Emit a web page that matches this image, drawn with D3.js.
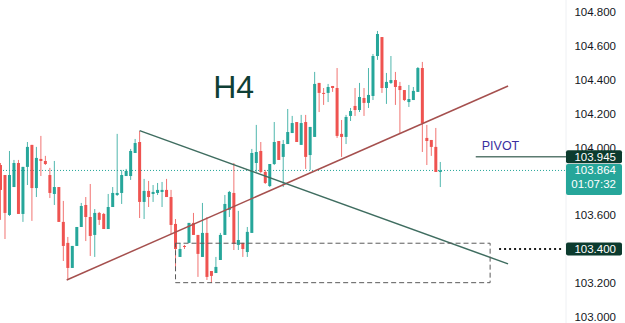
<!DOCTYPE html>
<html>
<head>
	<meta charset="utf-8">
	<title>index</title>
	<script src="https://d3js.org/d3.v7.min.js"></script>
	<style>
		body { margin:0; background:#fff; }
		svg { display:block; font-family:"Liberation Sans", Arial, sans-serif; }
	</style>
</head>
<body>
<script>

	// H4 candles (prices)
	var opens  = [103.896,103.837,103.601,103.766,103.908,103.607,103.885,104.015,103.760,103.932,
	              103.920,103.837,103.725,103.766,103.560,103.436,103.288,103.418,103.530,103.660,
	              103.589,103.483,103.613,103.607,103.518,103.648,103.719,103.731,103.831,103.831,
	              103.967,104.032,103.678,103.743,103.725,103.731,103.737,103.749,103.707,103.548,
	              103.353,103.418,103.436,103.554,103.483,103.353,103.495,103.270,103.258,103.335,
	              103.483,103.631,103.731,103.424,103.436,103.382,103.495,103.908,103.979,103.855,
	              103.772,103.902,104.038,103.944,104.020,104.085,104.150,104.015,104.150,103.955,
	              104.062,104.381,104.322,104.322,104.363,104.351,104.080,104.062,104.186,104.245,
	              104.221,104.292,104.263,104.304,104.540,104.652,104.351,104.381,104.398,104.363,
	              104.339,104.268,104.280,104.328,104.469,104.056,104.044,104.003,103.855];
	var highs  = [103.908,103.837,103.979,103.926,103.926,103.885,104.032,104.015,104.003,104.068,
	              103.950,103.879,103.920,103.766,103.684,103.471,103.418,103.530,103.672,103.707,
	              103.784,103.636,103.619,103.613,103.725,103.766,104.080,103.867,103.873,103.991,
	              104.050,104.097,103.814,103.802,103.778,103.790,103.796,103.814,103.749,103.577,
	              103.436,103.424,103.554,103.613,103.483,103.672,103.589,103.270,103.353,103.495,
	              103.719,103.743,103.908,103.625,103.436,103.530,103.991,104.133,104.032,103.867,
	              103.902,104.150,104.038,104.044,104.227,104.186,104.150,104.192,104.192,104.121,
	              104.446,104.381,104.351,104.375,104.363,104.469,104.162,104.192,104.233,104.351,
	              104.381,104.351,104.469,104.552,104.688,104.652,104.440,104.540,104.446,104.387,
	              104.339,104.369,104.357,104.475,104.505,104.133,104.044,104.115,103.914];
	var lows   = [103.572,103.459,103.595,103.766,103.607,103.560,103.778,103.566,103.707,103.831,
	              103.896,103.701,103.660,103.560,103.329,103.217,103.288,103.418,103.530,103.447,
	              103.359,103.353,103.542,103.518,103.518,103.648,103.713,103.666,103.831,103.808,
	              103.967,103.583,103.577,103.648,103.678,103.719,103.648,103.707,103.489,103.294,
	              103.353,103.400,103.436,103.483,103.235,103.353,103.217,103.199,103.258,103.335,
	              103.483,103.589,103.394,103.394,103.353,103.353,103.495,103.855,103.849,103.784,
	              103.766,103.896,103.926,103.766,104.020,104.085,104.032,104.015,103.873,103.867,
	              104.062,104.209,104.251,104.268,104.328,104.056,103.944,104.020,104.156,104.186,
	              104.209,104.186,104.233,104.280,104.517,104.322,104.257,104.375,104.251,104.085,
	              104.274,104.239,104.280,104.328,103.973,103.896,103.950,103.855,103.766];
	var closes = [103.749,103.613,103.837,103.908,103.607,103.885,104.003,103.760,103.938,103.920,
	              103.902,103.731,103.766,103.560,103.418,103.288,103.418,103.530,103.654,103.589,
	              103.477,103.613,103.572,103.518,103.648,103.731,103.731,103.837,103.861,103.979,
	              104.026,103.678,103.743,103.707,103.737,103.749,103.749,103.707,103.542,103.400,
	              103.400,103.412,103.554,103.483,103.371,103.495,103.235,103.241,103.294,103.483,
	              103.666,103.737,103.430,103.453,103.400,103.501,103.967,103.973,103.855,103.790,
	              103.902,104.032,103.926,104.020,104.091,104.144,104.032,104.144,103.944,104.121,
	              104.375,104.322,104.316,104.357,104.351,104.068,104.062,104.180,104.215,104.221,
	              104.298,104.263,104.310,104.540,104.670,104.351,104.387,104.398,104.357,104.339,
	              104.280,104.286,104.334,104.469,104.144,104.038,104.003,103.855,103.864];

	// 103.800 sits fully under the last-price tag, so it is not shown
	var priceTicks = [103.0, 103.2, 103.4, 103.6, 104.0, 104.2, 104.4, 104.6, 104.8];
	var lastPrice = 103.864;
	var countdown = "01:07:32";
	var pivotPrice = 103.945;
	var targetPrice = 103.400;

	// drawn objects, in [bar index, price]
	var downLine = [[31.0, 104.099], [113.1, 103.312]];
	var upLine = [[14.75, 103.217], [113.1, 104.363]];
	var zoneBox = [[39.0, 103.434], [109.1, 103.201]];
	var pivotLine = [105.9, 126.0];
	var targetDots = [111.1, 125.2];
	var h4Label = [[47.4, 104.29]];

	var W = 625, H = 323, axisX = 566;
	var green = "#26a69a", red = "#ef5350";

	var svg = d3.select("body").append("svg").attr("width", W).attr("height", H);

	var x = d3.scaleLinear().domain([0, opens.length - 1]).range([0.5, 440.3]);
	var y = d3.scaleLinear().domain([103.0, 104.8]).range([316.7, 12]);

	var candles = d3.range(opens.length).map(function(i) {
		return { i:i, o:opens[i], h:highs[i], l:lows[i], c:closes[i] };
	});

	// price axis
	var axis = svg.append("g")
		.attr("transform", "translate(" + axisX + ",0)")
		.call(d3.axisRight(y).tickValues(priceTicks).tickSize(0).tickFormat(d3.format(".3f")));
	axis.select(".domain").remove();
	axis.selectAll("text")
		.attr("x", 50).attr("text-anchor", "end")
		.attr("font-family", "Liberation Sans, Arial, sans-serif")
		.attr("font-size", "11.5px").attr("fill", "#131722");

	svg.append("line")
		.attr("x1", axisX).attr("x2", axisX).attr("y1", 0).attr("y2", H)
		.attr("stroke", "#eef0f3").attr("stroke-width", 1);

	// last price dotted line
	svg.append("line")
		.attr("x1", 0).attr("x2", axisX).attr("y1", y(lastPrice)).attr("y2", y(lastPrice))
		.attr("stroke", green).attr("stroke-width", 1).attr("stroke-dasharray", "1,2");

	// candles
	var g = svg.append("g");
	g.selectAll("line.wick").data(candles).enter().append("line")
		.attr("class", "wick")
		.attr("x1", function(d) { return x(d.i); })
		.attr("x2", function(d) { return x(d.i); })
		.attr("y1", function(d) { return y(d.h); })
		.attr("y2", function(d) { return y(d.l); })
		.attr("stroke", function(d) { return d.c >= d.o ? green : red; })
		.attr("stroke-width", 1).attr("opacity", 0.8);
	g.selectAll("rect.body").data(candles).enter().append("rect")
		.attr("class", "body")
		.attr("x", function(d) { return x(d.i) - 1.5; })
		.attr("width", 3)
		.attr("y", function(d) { return y(Math.max(d.o, d.c)); })
		.attr("height", function(d) { return Math.max(1, Math.abs(y(d.o) - y(d.c))); })
		.attr("fill", function(d) { return d.c >= d.o ? green : red; });

	// trend lines
	var line = d3.line().x(function(d) { return x(d[0]); }).y(function(d) { return y(d[1]); });
	svg.append("path").attr("d", line(upLine))
		.attr("fill", "none").attr("stroke", "#a5504e").attr("stroke-width", 1.5);
	svg.append("path").attr("d", line(downLine))
		.attr("fill", "none").attr("stroke", "#3f6d60").attr("stroke-width", 1.5);

	// dashed zone
	svg.append("rect")
		.attr("x", x(zoneBox[0][0])).attr("y", y(zoneBox[0][1]))
		.attr("width", x(zoneBox[1][0]) - x(zoneBox[0][0]))
		.attr("height", y(zoneBox[1][1]) - y(zoneBox[0][1]))
		.attr("fill", "none").attr("stroke", "#5a5a5a").attr("stroke-width", 1)
		.attr("stroke-dasharray", "5,3");

	// pivot line + label
	svg.append("line")
		.attr("x1", x(pivotLine[0])).attr("x2", x(pivotLine[1]))
		.attr("y1", y(pivotPrice)).attr("y2", y(pivotPrice))
		.attr("stroke", "#5b7a70").attr("stroke-width", 1.5);
	svg.append("text")
		.attr("x", x(pivotLine[0]) + 6).attr("y", y(pivotPrice) - 7)
		.attr("font-size", "12.5px").attr("fill", "#3a2ea0")
		.text("PIVOT");

	// 103.400 dotted
	svg.append("line")
		.attr("x1", x(targetDots[0])).attr("x2", x(targetDots[1]))
		.attr("y1", y(targetPrice)).attr("y2", y(targetPrice))
		.attr("stroke", "#1c1c1c").attr("stroke-width", 2).attr("stroke-dasharray", "2,3");

	// H4
	svg.selectAll("text.h4").data(h4Label).enter().append("text")
		.attr("class", "h4")
		.attr("x", function(d) { return x(d[0]); })
		.attr("y", function(d) { return y(d[1]); })
		.attr("font-size", "32px").attr("fill", "#0f3f35")
		.text("H4");

	// price tags
	function tag(price, fill, lines, h) {
		var top = y(price) - 6.5;
		svg.append("rect")
			.attr("x", axisX).attr("y", top).attr("width", 56).attr("height", h)
			.attr("rx", 2).attr("fill", fill);
		lines.forEach(function(t, k) {
			svg.append("text")
				.attr("x", axisX + 50).attr("y", top + 6.5 + k * 14)
				.attr("dy", "0.35em").attr("text-anchor", "end")
				.attr("font-size", "11.5px").attr("fill", "#fff")
				.text(t);
		});
	}
	tag(pivotPrice, "#0c3b2e", [d3.format(".3f")(pivotPrice)], 13);
	tag(lastPrice, green, [d3.format(".3f")(lastPrice), countdown], 31);
	tag(targetPrice, "#0c3b2e", [d3.format(".3f")(targetPrice)], 13);

</script>
</body>
</html>
